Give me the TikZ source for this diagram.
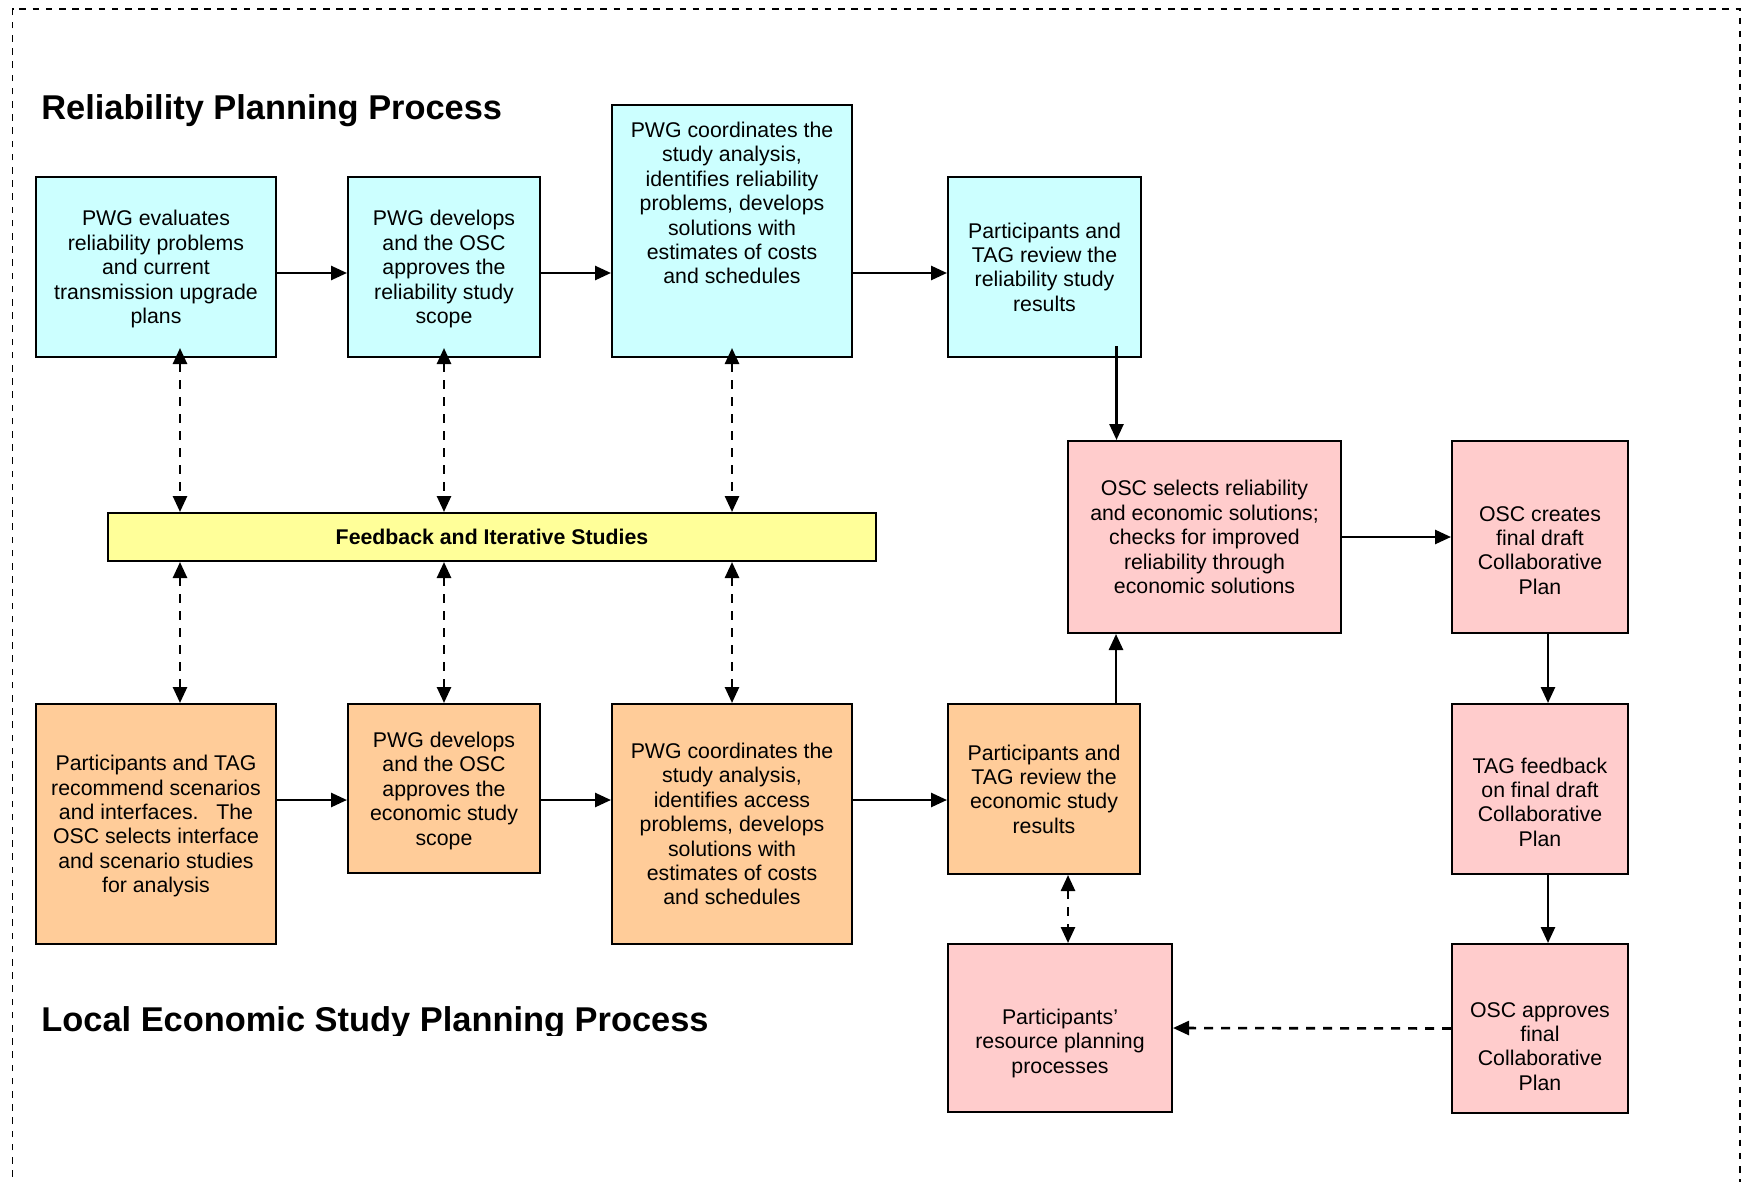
\documentclass[tikz,border=0pt]{standalone}
\usepackage{fontspec}
\setmainfont{Liberation Sans}
\usepackage{xcolor}
\usepackage{tikz}
\usetikzlibrary{arrows.meta}

\definecolor{relcyan}{HTML}{CCFFFF}
\definecolor{ecoorange}{HTML}{FFCC99}
\definecolor{oscpink}{HTML}{FFCCCC}
\definecolor{fbyellow}{HTML}{FFFF99}

\begin{document}
\begin{tikzpicture}[x=0.5pt, y=-0.5pt,
        txt/.style={font=\fontsize{10.65}{12.2}\selectfont, align=center, inner sep=0pt, text depth=0pt},
        title/.style={anchor=base west, inner sep=0pt, font=\fontsize{17.2}{20}\selectfont\bfseries},
        relbox/.style={txt, draw, line width=1pt, fill=relcyan},
        ecobox/.style={txt, draw, line width=1pt, fill=ecoorange},
        oscbox/.style={txt, draw, line width=1pt, fill=oscpink},
        fbbar/.style={txt, draw, line width=1pt, fill=fbyellow, font=\fontsize{10.65}{12.2}\selectfont\bfseries},
        arr/.style={>={Triangle[length=8pt,width=7pt]}, line width=1.3pt},
        darr/.style={>={Triangle[length=8pt,width=7pt]}, line width=1.3pt, dash pattern=on 4.5pt off 4pt}]
        \useasboundingbox (0,0) rectangle (1749,1182);
        \draw[line width=0.7pt, dash pattern=on 3.3pt off 3.3pt] (12.5,1190) -- (12.5,9) -- (1740,9) -- (1740,1190);

        \node[title] (T1) at (41,120) {Reliability Planning Process};
        \begin{scope}
            \clip (0,0) rectangle (1749,1035);
            \node[title] (T2) at (41,1031) {Local Economic Study Planning Process};
        \end{scope}

        \node[relbox, minimum width=120pt, minimum height=90pt] (R1) at (156,267) {PWG evaluates\\ reliability problems\\ and current\\ transmission upgrade\\ plans};
        \node[relbox, minimum width=96pt, minimum height=90pt] (R2) at (444,267) {PWG develops\\ and the OSC\\ approves the\\ reliability study\\ scope};
        \node[relbox, minimum width=120pt, minimum height=126pt] (R3) at (732,231) {PWG coordinates the\\ study analysis,\\ identifies reliability\\ problems, develops\\ solutions with\\ estimates of costs\\ and schedules\\ \strut\\[3.6pt] \strut};
        \node[relbox, minimum width=96.5pt, minimum height=90pt] (R4) at (1044.5,267) {Participants and\\ TAG review the\\ reliability study\\ results};

        \node[fbbar, minimum width=384pt, minimum height=24pt] (F) at (492,537) {Feedback and Iterative Studies};

        \node[ecobox, minimum width=120pt, minimum height=120pt] (E1) at (156,824) {Participants and TAG\\ recommend scenarios\\ and interfaces.\ \ \ The\\ OSC selects interface\\ and scenario studies\\ for analysis};
        \node[ecobox, minimum width=96pt, minimum height=84.5pt] (E2) at (444,788.5) {PWG develops\\ and the OSC\\ approves the\\ economic study\\ scope};
        \node[ecobox, minimum width=120pt, minimum height=120pt] (E3) at (732,824) {PWG coordinates the\\ study analysis,\\ identifies access\\ problems, develops\\ solutions with\\ estimates of costs\\ and schedules};
        \node[ecobox, minimum width=96pt, minimum height=85pt] (E4) at (1044,789) {Participants and\\ TAG review the\\ economic study\\ results};

        \node[oscbox, minimum width=136.5pt, minimum height=96pt] (S1) at (1204.5,537) {OSC selects reliability\\ and economic solutions;\\ checks for improved\\ reliability through\\ economic solutions};
        \node[oscbox, minimum width=88pt, minimum height=96pt] (S2) at (1540,537) {\strut\\ OSC creates\\ final draft\\ Collaborative\\ Plan};
        \node[oscbox, minimum width=88pt, minimum height=85pt] (S3) at (1540,789) {\strut\\ TAG feedback\\ on final draft\\ Collaborative\\ Plan};
        \node[oscbox, minimum width=88pt, minimum height=84.5pt] (S4) at (1540,1028.5) {\rule{0pt}{13pt}\\ OSC approves\\ final\\ Collaborative\\ Plan};
        \node[oscbox, minimum width=112pt, minimum height=84pt] (P) at (1060,1028) {\strut\\ Participants’\\ resource planning\\ processes};

        \draw[->, arr] ([yshift=-3pt]R1.east) -- ([yshift=-3pt]R2.west);
        \draw[->, arr] ([yshift=-3pt]R2.east) -- ([yshift=-3pt]R2.east -| R3.west);
        \draw[->, arr] ([yshift=-3pt]R4.west -| R3.east) -- ([yshift=-3pt]R4.west);
        \draw[->, arr] ([xshift=36pt,yshift=6pt]R4.south) -- ([xshift=36pt]R4.south |- S1.north);

        \draw[->, arr] ([yshift=12pt]E1.east) -- ([yshift=12pt]E1.east -| E2.west);
        \draw[->, arr] ([yshift=12pt]E1.east -| E2.east) -- ([yshift=12pt]E1.east -| E3.west);
        \draw[->, arr] ([yshift=12pt]E3.east) -- ([yshift=12pt]E3.east -| E4.west);
        \draw[->, arr] ([xshift=36pt]E4.north) -- ([xshift=36pt]E4.north |- S1.south);

        \draw[->, arr] (S1.east) -- (S2.west);
        \draw[->, arr] ([xshift=4pt]S2.south) -- ([xshift=4pt]S3.north);
        \draw[->, arr] ([xshift=4pt]S3.south) -- ([xshift=4pt]S4.north);
        \draw[->, darr] (S4.west) -- (P.east);
        \draw[<->, darr] ([xshift=12pt]E4.south) -- ([xshift=12pt]E4.south |- P.north);

        \draw[<->, darr, shorten <=-5pt] ([xshift=12pt]R1.south) -- ([xshift=12pt]R1.south |- F.north);
        \draw[<->, darr, shorten <=-5pt] (R2.south) -- (R2.south |- F.north);
        \draw[<->, darr, shorten <=-5pt] (R3.south) -- (R3.south |- F.north);
        \draw[<->, darr] ([xshift=12pt]E1.north |- F.south) -- ([xshift=12pt]E1.north);
        \draw[<->, darr] (E2.north |- F.south) -- (E2.north);
        \draw[<->, darr] (E3.north |- F.south) -- (E3.north);
\end{tikzpicture}
\end{document}
